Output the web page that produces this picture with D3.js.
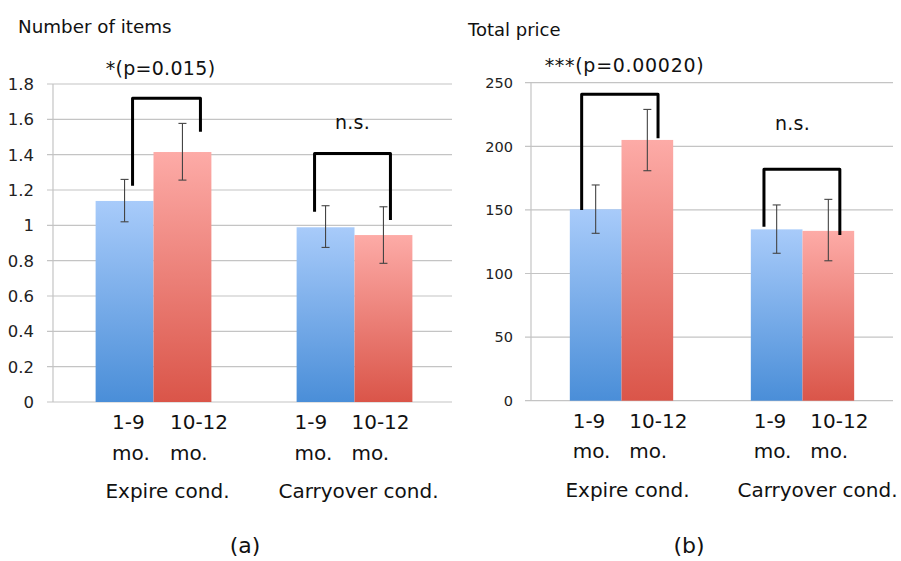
<!DOCTYPE html>
<html>
<head>
<meta charset="utf-8">
<script src="https://cdn.jsdelivr.net/npm/d3@7"></script>
<style>
  html, body { margin: 0; padding: 0; background: #fff; }
  svg { display: block; font-family: "DejaVu Sans", sans-serif; }
</style>
</head>
<body>
<svg id="chart" width="901" height="561"></svg>
<script>
// ---- Data ----
const conditions = ["Expire cond.", "Carryover cond."];
const periods = ["1-9 mo.", "10-12 mo."];

// Panel (a): Number of items
const itemsMean  = [[1.138, 1.415], [0.989, 0.945]];
const itemsLow   = [[1.02, 1.256], [0.875, 0.785]];
const itemsHigh  = [[1.26, 1.577], [1.111, 1.105]];
const itemsTicks = [0, 0.2, 0.4, 0.6, 0.8, 1, 1.2, 1.4, 1.6, 1.8];
const itemsTickLabels = ["0", "0.2", "0.4", "0.6", "0.8", "1", "1.2", "1.4", "1.6", "1.8"];
const itemsSig = ["*(p=0.015)", "n.s."];
const itemsBracketTop   = [1.719, 1.407];
const itemsBracketLeft  = [1.224, 1.077];
const itemsBracketRight = [1.53, 1.03];
const itemsSigLevel = [1.85, 1.545];

// Panel (b): Total price
const priceMean  = [[150.5, 205], [134.7, 133.5]];
const priceLow   = [[131.6, 180.8], [115.9, 110]];
const priceHigh  = [[169.6, 229], [153.9, 158.3]];
const priceTicks = [0, 50, 100, 150, 200, 250];
const priceTickLabels = ["0", "50", "100", "150", "200", "250"];
const priceSig = ["***(p=0.00020)", "n.s."];
const priceBracketTop   = [240.9, 181.9];
const priceBracketLeft  = [149.9, 136.8];
const priceBracketRight = [206.3, 130.3];
const priceSigLevel = [258.3, 212.8];

// ---- Drawing ----
const svg = d3.select("#chart");
const defs = svg.append("defs");
function grad(id, top, bottom) {
  const g = defs.append("linearGradient").attr("id", id)
    .attr("x1", 0).attr("y1", 0).attr("x2", 0).attr("y2", 1);
  g.append("stop").attr("offset", "0%").attr("stop-color", top);
  g.append("stop").attr("offset", "100%").attr("stop-color", bottom);
}
grad("gBlue", "#a8cbfa", "#4a8ed8");
grad("gRed", "#fdaba7", "#da5549");
const fills = ["url(#gBlue)", "url(#gRed)"];

function panel(cfg) {
  const y = d3.scaleLinear().domain(cfg.domain).range([cfg.y0, cfg.y1]);
  const x = d3.scaleBand().domain(conditions).range([cfg.x0, cfg.x1])
    .paddingInner(cfg.pad).paddingOuter(cfg.pad / 2);
  const xs = d3.scaleBand().domain(periods).range([0, x.bandwidth()]);
  const g = svg.append("g");

  // gridlines
  g.selectAll("line.grid").data(cfg.ticks).join("line")
    .attr("x1", cfg.gx0).attr("x2", cfg.gx1)
    .attr("y1", d => y(d)).attr("y2", d => y(d))
    .attr("stroke", "#c4c4c4").attr("stroke-width", 1.2);
  // y axis line
  g.append("line").attr("x1", cfg.x0).attr("x2", cfg.x0)
    .attr("y1", y(cfg.domain[0])).attr("y2", y(cfg.domain[1]))
    .attr("stroke", "#c4c4c4").attr("stroke-width", 1.2);

  // tick labels
  g.selectAll("text.tick").data(cfg.ticks).join("text")
    .attr("x", cfg.tickX).attr("y", d => y(d))
    .attr("dy", "0.36em").attr("text-anchor", "end")
    .attr("font-size", cfg.tickSize).attr("fill", "#222")
    .text((d, i) => cfg.tickLabels[i]);

  // bars
  const rows = [];
  conditions.forEach((c, ci) => periods.forEach((p, pi) => rows.push({
    c, p, ci, pi, v: cfg.mean[ci][pi], lo: cfg.low[ci][pi], hi: cfg.high[ci][pi]
  })));
  g.selectAll("rect.bar").data(rows).join("rect")
    .attr("x", d => x(d.c) + xs(d.p))
    .attr("width", xs.bandwidth())
    .attr("y", d => y(d.v))
    .attr("height", d => y(0) - y(d.v))
    .attr("fill", d => fills[d.pi]);

  // error bars
  const cx = d => x(d.c) + xs(d.p) + xs.bandwidth() / 2;
  const eb = g.selectAll("g.eb").data(rows).join("g").attr("stroke", "#444").attr("stroke-width", 1.1);
  eb.append("line").attr("x1", cx).attr("x2", cx).attr("y1", d => y(d.lo)).attr("y2", d => y(d.hi));
  eb.append("line").attr("x1", d => cx(d) - 4).attr("x2", d => cx(d) + 4).attr("y1", d => y(d.lo)).attr("y2", d => y(d.lo));
  eb.append("line").attr("x1", d => cx(d) - 4).attr("x2", d => cx(d) + 4).attr("y1", d => y(d.hi)).attr("y2", d => y(d.hi));

  // brackets
  conditions.forEach((c, ci) => {
    const lx = x(c) + xs(periods[0]) + xs.bandwidth() / 2 + cfg.brDx[ci][0];
    const rx = x(c) + xs(periods[1]) + xs.bandwidth() / 2 + cfg.brDx[ci][1];
    const path = d3.path();
    path.moveTo(lx, y(cfg.brLeft[ci]));
    path.lineTo(lx, y(cfg.brTop[ci]));
    path.lineTo(rx, y(cfg.brTop[ci]));
    path.lineTo(rx, y(cfg.brRight[ci]));
    g.append("path").attr("d", path.toString())
      .attr("fill", "none").attr("stroke", "#000").attr("stroke-width", 3)
      .attr("stroke-linejoin", "round");
    g.append("text")
      .attr("x", x(c) + x.bandwidth() / 2 + cfg.sigDx[ci])
      .attr("y", y(cfg.sigLevel[ci]))
      .attr("text-anchor", "middle").attr("font-size", cfg.sigSize).attr("fill", "#111")
      .attr("letter-spacing", cfg.sigSpacing[ci])
      .text(cfg.sig[ci]);
  });

  // category labels
  rows.forEach(d => {
    const parts = d.p.split(" ");
    const lx = x(d.c) + xs(d.p) + xs.bandwidth() / 2 + cfg.labDx[d.ci][d.pi];
    const t = g.append("text").attr("font-size", cfg.catSize).attr("fill", "#111");
    parts.forEach((s, k) => t.append("tspan").attr("x", lx).attr("y", cfg.labY[k]).text(s));
  });
  conditions.forEach((c, ci) => {
    g.append("text").attr("x", x(c) + x.bandwidth() / 2 + cfg.condDx[ci])
      .attr("y", cfg.condY).attr("text-anchor", "middle")
      .attr("font-size", cfg.catSize).attr("fill", "#111").text(c);
  });

  // title + panel label
  g.append("text").attr("x", cfg.titleX).attr("y", cfg.titleY)
    .attr("font-size", cfg.titleSize).attr("fill", "#111").text(cfg.title);
  g.append("text").attr("x", cfg.panelX).attr("y", cfg.panelY)
    .attr("text-anchor", "middle").attr("font-size", 22).attr("fill", "#111").text(cfg.panel);
}

panel({
  domain: [0, 1.8], y0: 402, y1: 84, x0: 53, x1: 455, gx0: 47, gx1: 452, pad: 0.424,
  ticks: itemsTicks, tickLabels: itemsTickLabels, tickX: 34, tickSize: 16.5,
  mean: itemsMean, low: itemsLow, high: itemsHigh,
  brTop: itemsBracketTop, brLeft: itemsBracketLeft, brRight: itemsBracketRight,
  brDx: [[8, 18], [-11, 7]],
  sig: itemsSig, sigLevel: itemsSigLevel, sigDx: [7, -2], sigSize: 19, sigSpacing: [0.3, 0.3],
  labDx: [[-12.5, -12.5], [-31, -32]], labY: [429, 460], catSize: 20,
  condDx: [14, 4], condY: 498,
  title: "Number of items", titleX: 18, titleY: 33, titleSize: 18.3,
  panel: "(a)", panelX: 245, panelY: 553
});

panel({
  domain: [0, 250], y0: 400.7, y1: 82.7, x0: 531, x1: 893, gx0: 525, gx1: 893, pad: 0.429,
  ticks: priceTicks, tickLabels: priceTickLabels, tickX: 513, tickSize: 14.5,
  mean: priceMean, low: priceLow, high: priceHigh,
  brTop: priceBracketTop, brLeft: priceBracketLeft, brRight: priceBracketRight,
  brDx: [[-14, 10.7], [-12.7, 11.5]],
  sig: priceSig, sigLevel: priceSigLevel, sigDx: [3, -10], sigSize: 19, sigSpacing: [0.7, 0.3],
  labDx: [[-23, -18], [-23, -18]], labY: [428, 458], catSize: 20,
  condDx: [6, 15], condY: 497,
  title: "Total price", titleX: 468, titleY: 36, titleSize: 18,
  panel: "(b)", panelX: 689, panelY: 553
});
</script>
</body>
</html>
